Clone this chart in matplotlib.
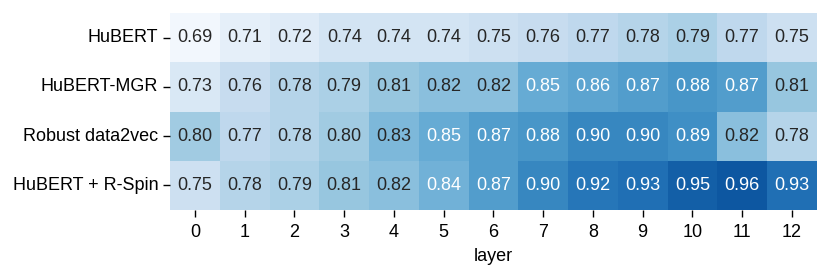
import numpy as np
import pandas as pd
import matplotlib
matplotlib.use("Agg")
import matplotlib.pyplot as plt
import seaborn as sns

layers = list(range(13))
models = ["HuBERT", "HuBERT-MGR", "Robust data2vec", "HuBERT + R-Spin"]

hubert = [0.69, 0.71, 0.72, 0.74, 0.74, 0.74, 0.75, 0.76, 0.77, 0.78, 0.79, 0.77, 0.75]
hubert_mgr = [0.73, 0.76, 0.78, 0.79, 0.81, 0.82, 0.82, 0.85, 0.86, 0.87, 0.88, 0.87, 0.81]
robust_d2v = [0.80, 0.77, 0.78, 0.80, 0.83, 0.85, 0.87, 0.88, 0.90, 0.90, 0.89, 0.82, 0.78]
rspin = [0.75, 0.78, 0.79, 0.81, 0.82, 0.84, 0.87, 0.90, 0.92, 0.93, 0.95, 0.96, 0.93]

df = pd.DataFrame([hubert, hubert_mgr, robust_d2v, rspin], index=models, columns=layers)

plt.rcParams['font.family'] = ['Liberation Sans', 'DejaVu Sans']
plt.rcParams['font.size'] = 13

fig = plt.figure(figsize=(8.3, 2.76), dpi=100)
ax = fig.add_axes([0.205, 0.239, 0.779, 0.714])
sns.heatmap(df, ax=ax, cmap="Blues", vmin=0.68, vmax=1.01, annot=True, fmt=".2f",
            cbar=False, annot_kws={"fontsize": 13})
ax.set_xlabel("layer", fontsize=13, labelpad=5)
ax.tick_params(axis='both', labelsize=13, length=5, width=1)
ax.tick_params(axis='x', pad=5)
plt.setp(ax.get_yticklabels(), rotation=0)
fig.savefig("out.png", dpi=100)
